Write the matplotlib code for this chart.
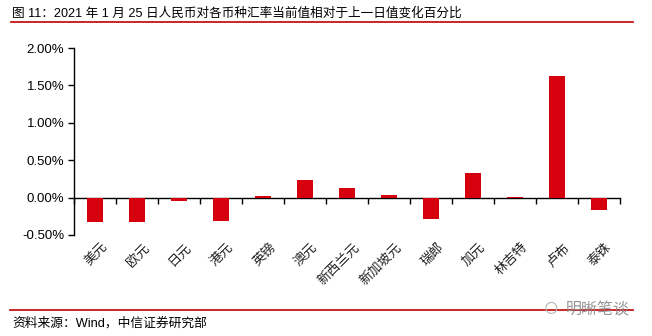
import numpy as np
import matplotlib.pyplot as plt
from matplotlib.ticker import FuncFormatter, FixedLocator
from matplotlib.lines import Line2D

plt.rcParams['font.family'] = ['Liberation Sans', 'Noto Sans CJK SC', 'DejaVu Sans']

currencies = ['美元', '欧元', '日元', '港元', '英镑', '澳元', '新西兰元',
              '新加坡元', '瑞郎', '加元', '林吉特', '卢布', '泰铢']
changes = [-0.32, -0.32, -0.05, -0.31, 0.02, 0.24, 0.13,
           0.04, -0.28, 0.33, 0.01, 1.63, -0.16]  # percent
yticks = [-0.5, 0.0, 0.5, 1.0, 1.5, 2.0]

title = '图 11：2021 年 1 月 25 日人民币对各币种汇率当前值相对于上一日值变化百分比'
source = '资料来源：Wind，中信证券研究部'

fig = plt.figure(figsize=(6.52, 3.36), dpi=100)
ax = fig.add_axes([0.1135, 0.3006, 0.8375, 0.5565])

x = np.arange(len(currencies))
ax.bar(x, changes, width=0.4, color='#d7000f', zorder=3)

ax.set_xlim(-0.5, len(currencies) - 0.5)
ax.set_ylim(-0.5, 2.0)
ax.yaxis.set_major_locator(FixedLocator(yticks))
ax.yaxis.set_major_formatter(FuncFormatter(lambda v, p: '%.2f%%' % v))
ax.tick_params(axis='y', direction='out', length=4, width=1, labelsize=9.5, pad=3)

# x axis sits on the zero line, ticks between categories
ax.spines['bottom'].set_position(('data', 0))
ax.spines['top'].set_visible(False)
ax.spines['right'].set_visible(False)
ax.spines['left'].set_linewidth(1)
ax.spines['bottom'].set_linewidth(1)
ax.set_xticks(np.arange(len(currencies) + 1) - 0.5)
ax.set_xticklabels([])
ax.tick_params(axis='x', direction='out', length=4, width=1)

for i, name in enumerate(currencies):
    ax.text(i + 0.15, -0.58, name, rotation=45, ha='right', va='top',
            rotation_mode='anchor', fontsize=9.5, color='#222222')

fig.text(0.019, 0.961, title, fontsize=9.1, va='center', ha='left')
fig.add_artist(Line2D([0.017, 0.971], [0.934, 0.934], color='#c00000', lw=1.2))
fig.add_artist(Line2D([0.015, 0.971], [0.077, 0.077], color='#c00000', lw=1.2))
fig.text(0.019, 0.039, source, fontsize=9.2, va='center', ha='left')

# watermark
fig.text(0.917, 0.077, '明晰笔谈', fontsize=11.5, color='#8a8a8a', ha='center',
         va='center', alpha=0.9)
fig.text(0.845, 0.08, '\u25cb', fontsize=20, color='#b8b8b8', ha='center', va='center')

fig.savefig('out.png', dpi=100)
